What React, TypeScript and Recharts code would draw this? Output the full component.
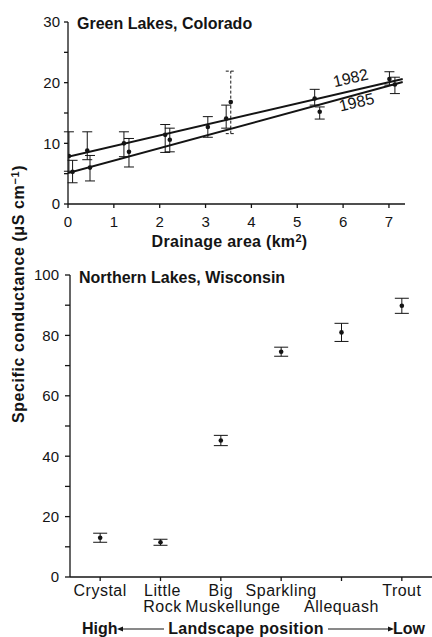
import {
  ScatterChart,
  Scatter,
  XAxis,
  YAxis,
  ErrorBar,
  ReferenceDot,
  Label,
} from 'recharts'

const FONT = '"Liberation Sans", Arial, sans-serif'
const INK = '#141414'

// Green Lakes: drainage area (km2) vs specific conductance, [low, high] error
const green1982 = [
  { x: 0.02, y: 7.9, err: [2.5, 4.0] },
  { x: 0.42, y: 8.8, err: [1.5, 3.1] },
  { x: 1.22, y: 10.0, err: [2.2, 1.9] },
  { x: 2.12, y: 11.4, err: [2.9, 1.7] },
  { x: 3.45, y: 14.1, err: [1.6, 2.2] },
  { x: 5.38, y: 17.4, err: [1.1, 1.5] },
  { x: 7.01, y: 20.6, err: [1.0, 1.2] },
]
const green1985 = [
  { x: 0.1, y: 5.3, err: [1.8, 1.9] },
  { x: 0.48, y: 6.0, err: [2.2, 2.0] },
  { x: 1.33, y: 8.6, err: [2.5, 2.2] },
  { x: 2.22, y: 10.6, err: [2.0, 1.9] },
  { x: 3.05, y: 12.7, err: [1.7, 1.7] },
  { x: 5.49, y: 15.2, err: [1.2, 0.8] },
  { x: 7.13, y: 19.7, err: [1.5, 1.2] },
]
// the one dashed error bar
const green1985Dashed = [{ x: 3.55, y: 16.8, err: [5.2, 5.1] }]

// regression lines
const fit1982 = [
  { x: 0, y: 7.8 },
  { x: 7.3, y: 20.6 },
]
const fit1985 = [
  { x: 0, y: 5.1 },
  { x: 7.3, y: 20.1 },
]

const greenXTicks = [0, 1, 2, 3, 4, 5, 6, 7]
const greenYTicks = [0, 5, 10, 15, 20, 25, 30]

// Northern Lakes, ordered by landscape position
const lakes = ['Crystal', 'Little Rock', 'Big Muskellunge', 'Sparkling', 'Allequash', 'Trout']
const lakeTickLines = [
  ['Crystal'],
  ['Little', 'Rock'],
  ['Big', 'Muskellunge'],
  ['Sparkling'],
  ['', 'Allequash'],
  ['Trout'],
]
const lakeConductance = [13.0, 11.5, 45.2, 74.6, 81.0, 89.8]
const lakeError = [1.5, 1.0, 1.7, 1.5, 3.0, 2.5]
const lakeYTicks = [0, 10, 20, 30, 40, 50, 60, 70, 80, 90, 100]

const lakeData = lakes.map((name, i) => ({
  name,
  x: i + 1,
  y: lakeConductance[i],
  err: lakeError[i],
}))

const Dot = (props: any) => <circle cx={props.cx} cy={props.cy} r={2.3} fill={INK} />
const NoDot = () => <g />

const tickStyle = { fontSize: 15, fill: INK, fontFamily: FONT }

const LakeTick = ({ x, y, payload }: any) => {
  const lines = lakeTickLines[payload.value - 1] || []
  return (
    <g>
      {lines.map((t, k) => (
        <text
          key={k}
          x={x + (t === 'Muskellunge' ? 12 : t === 'Little' || t === 'Rock' ? 2 : 0)}
          y={y + 13 + k * 16}
          textAnchor="middle"
          style={{ ...tickStyle, fontSize: 16, letterSpacing: 0.5 }}
        >
          {t}
        </text>
      ))}
    </g>
  )
}

const arrowHead = (x: number, y: number, dir: number) => (
  <path d={`M${x},${y} L${x - dir * 6},${y - 2.5} L${x - dir * 6},${y + 2.5} Z`} fill={INK} />
)

export default function App() {
  const boldText = { fontFamily: FONT, fontWeight: 700, fontSize: 16, fill: INK }
  return (
    <div
      style={{
        position: 'absolute',
        left: 0,
        top: 0,
        width: 432,
        height: 637,
        background: '#fff',
      }}
    >
      <div style={{ position: 'absolute', left: 0, top: 0 }}>
        <ScatterChart width={432} height={250} margin={{ top: 22, right: 27, left: 28, bottom: 0 }}>
          <XAxis
            type="number"
            dataKey="x"
            domain={[0, 7.35]}
            ticks={greenXTicks}
            interval={0}
            allowDataOverflow
            height={46}
            stroke={INK}
            strokeWidth={1.3}
            tickSize={4}
            tickMargin={8}
            tick={tickStyle}
          >
            <Label
              content={({ viewBox }: any) => (
                <text
                  x={viewBox.x + viewBox.width / 2 - 7}
                  y={viewBox.y + 43}
                  textAnchor="middle"
                  style={{ ...boldText, letterSpacing: 0.3 }}
                >
                  Drainage area (km
                  <tspan dy={-5} fontSize={11}>
                    2
                  </tspan>
                  <tspan dy={5}>)</tspan>
                </text>
              )}
            />
          </XAxis>
          <YAxis
            type="number"
            dataKey="y"
            domain={[0, 30]}
            ticks={greenYTicks}
            interval={0}
            width={40}
            stroke={INK}
            strokeWidth={1.3}
            tickSize={4}
            tickMargin={4}
            tick={tickStyle}
            tickFormatter={(v: number) => (v % 10 === 0 ? String(v) : '')}
          >
            <Label
              content={({ viewBox }: any) => (
                <text x={viewBox.x + viewBox.width + 9} y={viewBox.y + 7} style={boldText}>
                  Green Lakes, Colorado
                </text>
              )}
            />
          </YAxis>
          <Scatter
            data={fit1982}
            dataKey="y"
            shape={NoDot}
            line={{ stroke: INK, strokeWidth: 2 }}
            isAnimationActive={false}
          />
          <Scatter
            data={fit1985}
            dataKey="y"
            shape={NoDot}
            line={{ stroke: INK, strokeWidth: 2 }}
            isAnimationActive={false}
          />
          <Scatter data={green1982} dataKey="y" shape={Dot} isAnimationActive={false}>
            <ErrorBar dataKey="err" direction="y" width={5} stroke={INK} strokeWidth={1} />
          </Scatter>
          <Scatter data={green1985} dataKey="y" shape={Dot} isAnimationActive={false}>
            <ErrorBar dataKey="err" direction="y" width={5} stroke={INK} strokeWidth={1} />
          </Scatter>
          <Scatter data={green1985Dashed} dataKey="y" shape={Dot} isAnimationActive={false}>
            <ErrorBar
              dataKey="err"
              direction="y"
              width={5}
              stroke={INK}
              strokeWidth={1}
              strokeDasharray="3 2"
            />
          </Scatter>
          <ReferenceDot
            x={6.19}
            y={18.6}
            r={0}
            fill="none"
            stroke="none"
            label={({ viewBox }: any) => (
              <text
                x={viewBox.x}
                y={viewBox.y - 8}
                textAnchor="middle"
                transform={`rotate(-13 ${viewBox.x} ${viewBox.y - 8})`}
                style={{ ...tickStyle, fontSize: 16 }}
              >
                1982
              </text>
            )}
          />
          <ReferenceDot
            x={6.32}
            y={18.06}
            r={0}
            fill="none"
            stroke="none"
            label={({ viewBox }: any) => (
              <text
                x={viewBox.x}
                y={viewBox.y + 13}
                textAnchor="middle"
                transform={`rotate(-13 ${viewBox.x} ${viewBox.y + 13})`}
                style={{ ...tickStyle, fontSize: 16 }}
              >
                1985
              </text>
            )}
          />
        </ScatterChart>
      </div>

      <div style={{ position: 'absolute', left: 0, top: 150 }}>
        <ScatterChart width={432} height={487} margin={{ top: 125, right: 0, left: 30, bottom: 0 }}>
          <XAxis
            type="number"
            dataKey="x"
            domain={[0.5, 6.5]}
            ticks={[1, 2, 3, 4, 5, 6]}
            interval={0}
            height={60}
            stroke={INK}
            strokeWidth={1.3}
            tickSize={4}
            tickMargin={2}
            tick={<LakeTick />}
          >
            <Label
              content={({ viewBox }: any) => {
                const y = viewBox.y + 57
                const x0 = viewBox.x
                return (
                  <g>
                    <text x={x0 + 12} y={y} style={boldText}>
                      High
                    </text>
                    <line x1={x0 + 49} x2={x0 + 94} y1={y - 5} y2={y - 5} stroke={INK} strokeWidth={1.2} />
                    {arrowHead(x0 + 47, y - 5, -1)}
                    <text x={x0 + 176} y={y} textAnchor="middle" style={{ ...boldText, letterSpacing: 0.3 }}>
                      Landscape position
                    </text>
                    <line x1={x0 + 258} x2={x0 + 318} y1={y - 5} y2={y - 5} stroke={INK} strokeWidth={1.2} />
                    {arrowHead(x0 + 324, y - 5, 1)}
                    <text x={x0 + 355} y={y} textAnchor="end" style={boldText}>
                      Low
                    </text>
                  </g>
                )
              }}
            />
          </XAxis>
          <YAxis
            type="number"
            dataKey="y"
            domain={[0, 100]}
            ticks={lakeYTicks}
            interval={0}
            width={40}
            stroke={INK}
            strokeWidth={1.3}
            tickSize={5}
            tickMargin={6}
            tick={tickStyle}
            tickFormatter={(v: number) => (v % 20 === 0 ? String(v) : '')}
          >
            <Label
              content={({ viewBox }: any) => {
                const cx = viewBox.x - 6
                const cy = viewBox.y + 19
                return (
                  <g>
                    <text x={viewBox.x + viewBox.width + 9} y={viewBox.y + 8} style={boldText}>
                      Northern Lakes, Wisconsin
                    </text>
                    <text
                      x={cx}
                      y={cy}
                      textAnchor="middle"
                      transform={`rotate(-90 ${cx} ${cy})`}
                      style={{ ...boldText, letterSpacing: 0.6 }}
                    >
                      Specific conductance (μS cm
                      <tspan dy={-5} fontSize={11}>
                        −1
                      </tspan>
                      <tspan dy={5}>)</tspan>
                    </text>
                  </g>
                )
              }}
            />
          </YAxis>
          <Scatter data={lakeData} dataKey="y" shape={Dot} isAnimationActive={false}>
            <ErrorBar dataKey="err" direction="y" width={7} stroke={INK} strokeWidth={1} />
          </Scatter>
        </ScatterChart>
      </div>
    </div>
  )
}
